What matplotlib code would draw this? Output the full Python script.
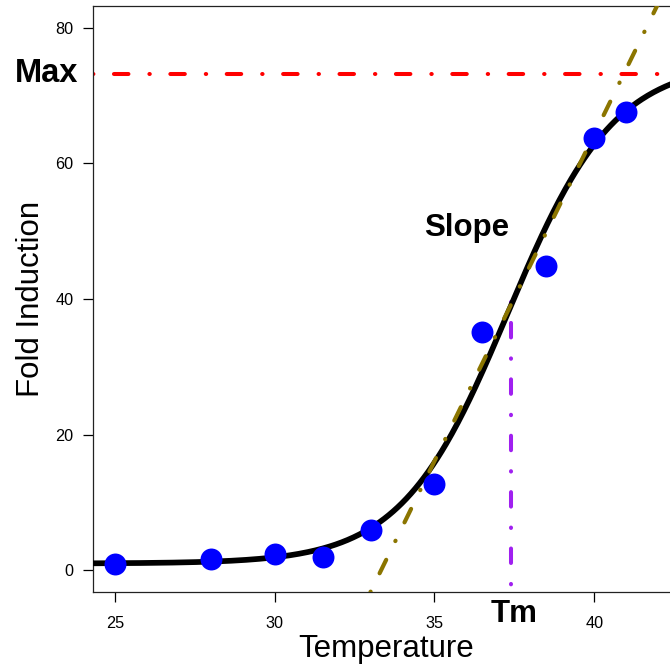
import numpy as np
import matplotlib
matplotlib.use("Agg")
import matplotlib.pyplot as plt

plt.rcParams['font.family'] = ['Liberation Sans', 'DejaVu Sans']

# Измерения
temperature = [25, 28, 30, 31.5, 33, 35, 36.5, 38.5, 40, 41]
fold_induction = [1.0, 1.7, 2.4, 2.0, 6.0, 12.7, 35.1, 44.8, 63.7, 67.6]

# Параметры сигмоиды (низ, верх, Tm, крутизна)
bottom, top, tm_fit, rate = 1.0, 75.0, 37.3, 0.6

# Аннотации
max_level = 73.2
tm_x, tm_top = 37.4, 39.6
slope_x0, slope_k = 33.33, 9.64   # прямая y = k * (x - x0)

x_ticks = [25, 30, 35, 40]
y_ticks = [0, 20, 40, 60, 80]

xlim = (24.32, 42.68)
ylim = (-3.2, 83.2)

fig = plt.figure(figsize=(6.7, 6.72), dpi=100)
ax = fig.add_axes([93 / 670, 1 - 592 / 672, 587 / 670, 586 / 672])

# Подогнанная кривая
xs = np.linspace(xlim[0], xlim[1], 400)
ys = bottom + (top - bottom) / (1 + np.exp(-rate * (xs - tm_fit)))
ax.plot(xs, ys, color='black', lw=4.1, solid_capstyle='butt', zorder=3)

# Максимум
ax.plot([xlim[0], xlim[1]], [max_level, max_level], color='red', lw=2.9,
        dashes=(0.1, 5.1, 3.6, 5.2), dash_capstyle='round', zorder=2)

# Касательная (наклон) — до верхней границы и чуть дальше, обрезается осями
x_start = slope_x0 + ylim[0] / slope_k
y_end = ylim[1] + 3
x_end = slope_x0 + y_end / slope_k
ax.plot([x_start, x_end], [ylim[0], y_end], color='#8B7500', lw=3.0,
        dashes=(0.1, 4.9, 3.6, 5.0), dash_capstyle='round', zorder=3.5)

# Tm
ax.plot([tm_x, tm_x], [tm_top, ylim[0]], color='#A020F0', lw=2.9,
        dashes=(0.1, 5.1, 3.6, 5.2), dash_capstyle='round', zorder=2)

ax.plot(temperature, fold_induction, 'o', color='blue', ms=15.8, mec='none', zorder=4)

ax.set_xlim(*xlim)
ax.set_ylim(*ylim)
ax.set_xticks(x_ticks)
ax.set_yticks(y_ticks)
ax.tick_params(axis='x', length=7, width=0.9, pad=10.5, labelsize=11.7)
ax.tick_params(axis='y', length=7, width=0.9, pad=7, labelsize=11.7)
for s in ax.spines.values():
    s.set_linewidth(0.9)
    s.set_color('#222222')

ax.set_xlabel('Temperature', fontsize=22.5, labelpad=2)
ax.set_ylabel('Fold Induction', fontsize=22.5, labelpad=7)

ax.text(-0.025, max_level, 'Max', transform=ax.get_yaxis_transform(),
        ha='right', va='center', fontsize=23.5, fontweight='bold')
ax.text(36.0, 50.4, 'Slope', ha='center', va='center', fontsize=22.5, fontweight='bold')
ax.text(37.48, ylim[0] - 3.2, 'Tm', ha='center', va='center', fontsize=22.5,
        fontweight='bold', clip_on=False)

fig.savefig('out.png', dpi=100)
